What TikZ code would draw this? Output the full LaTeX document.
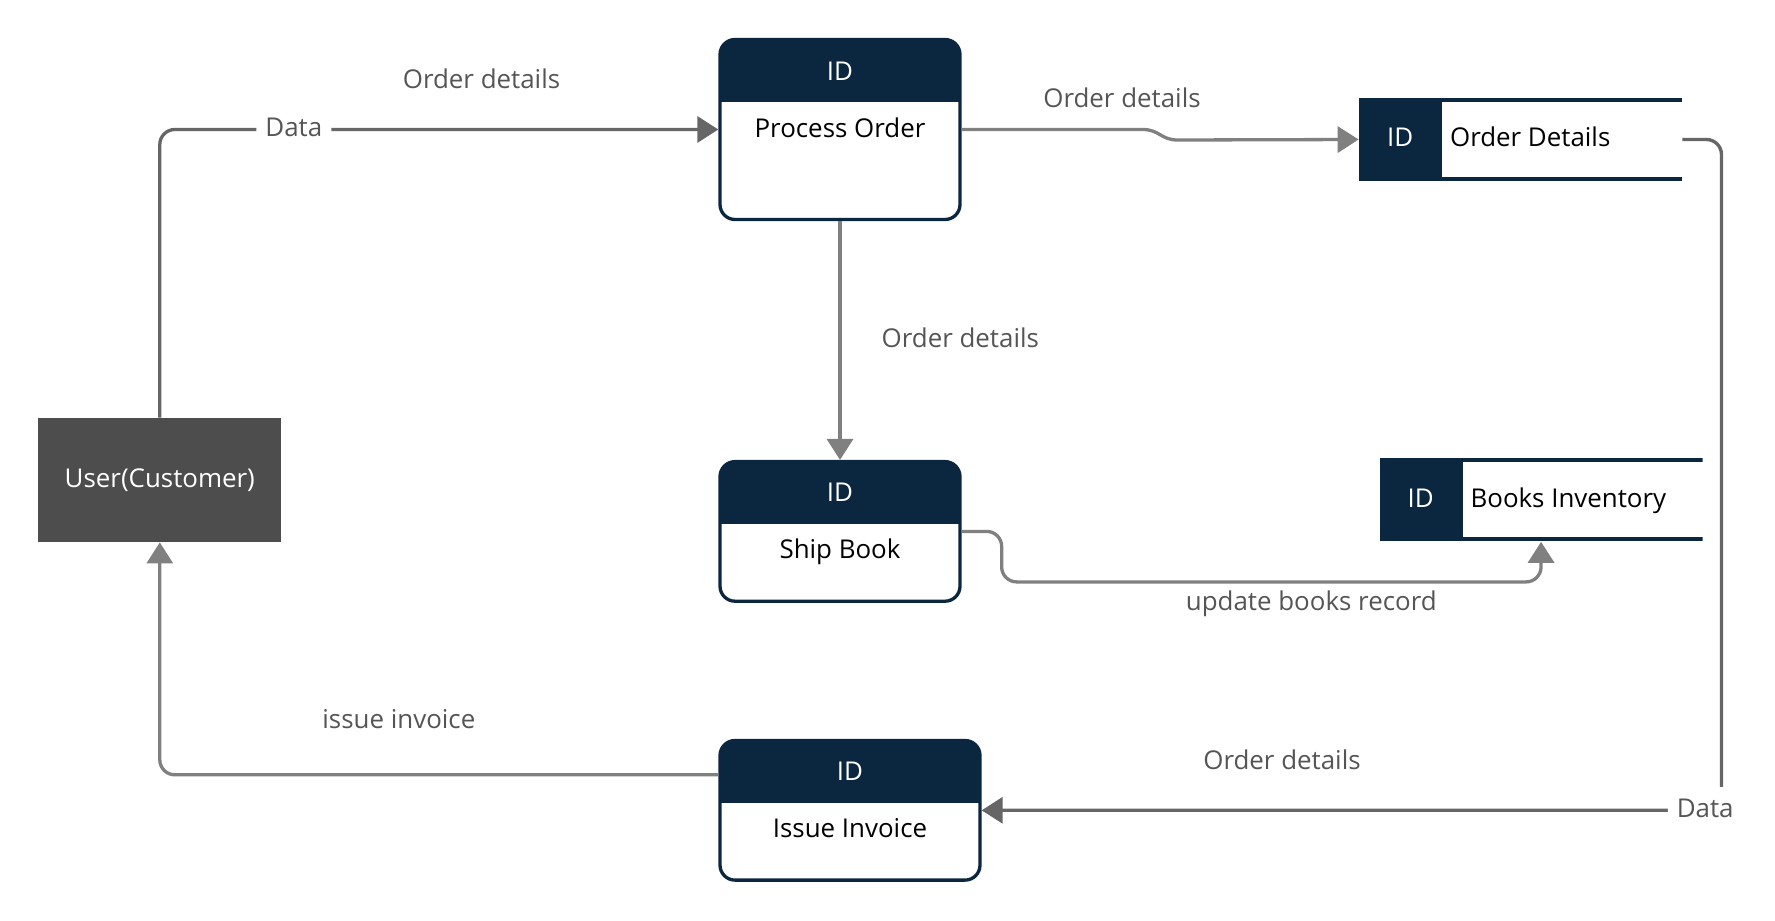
\documentclass[tikz,border=0pt]{standalone}
\usepackage{fontspec}
\setmainfont{Open Sans}
\usepackage{xcolor}
\usepackage{tikz}
\usetikzlibrary{arrows.meta,positioning}
\definecolor{navy}{HTML}{0B2740}
\definecolor{userfill}{HTML}{4D4D4D}
\definecolor{edgegray}{HTML}{808080}
\definecolor{datagray}{HTML}{666666}
\definecolor{labelgray}{HTML}{555555}

\begin{document}
\begin{tikzpicture}[x=0.5pt,y=-0.5pt,>={Triangle[length=10.5pt,width=13pt]},font=\fontsize{12.95}{16}\selectfont]
        \tikzset{block/.style={fill=userfill, text=white, minimum width=121.5pt, minimum height=62pt, inner sep=0pt},
        rblock/.style={draw=navy, fill=white, line width=1.65pt, rounded corners=7.5pt, minimum width=120pt, inner sep=0pt,
            path picture={\fill[navy, sharp corners] (path picture bounding box.north west) rectangle ([yshift=-31.15pt]path picture bounding box.north east);}},
        store/.style={minimum width=161.5pt, minimum height=41.5pt, inner sep=0pt,
            path picture={
                \fill[navy] (path picture bounding box.north west) rectangle ([xshift=41.5pt]path picture bounding box.south west);
                \fill[navy] (path picture bounding box.north west) rectangle ([yshift=-2pt]path picture bounding box.north east);
                \fill[navy] (path picture bounding box.south west) rectangle ([yshift=2pt]path picture bounding box.south east);
            }},
        idtext/.style={text=white, inner sep=0pt, text height=0.714em, text depth=0pt},
        nametext/.style={text=black, inner sep=0pt, text height=0.714em, text depth=0pt},
        lbl/.style={text=labelgray, inner sep=0pt, text height=0.714em, text depth=0pt},
        datalbl/.style={lbl, fill=white, inner xsep=4.5pt, inner ysep=8pt},
        flow/.style={draw=edgegray, line width=1.65pt, rounded corners=7.5pt, ->},
        dflow/.style={draw=datagray, line width=1.65pt, rounded corners=7.5pt, ->}
        }
        \useasboundingbox (0,0) rectangle (1775,920);

        \node [block] (User) at (159.8,480) {User(Customer)};
        \node [rblock, minimum height=90pt] (Process) at (840,129.5) {};
        \node [rblock, minimum height=69.8pt, below=119.4pt of Process] (Ship) {};
        \node [rblock, minimum width=130pt, minimum height=69.8pt, below=68pt of Ship, xshift=5pt] (Invoice) {};
        \node [store, right=198.5pt of Process, yshift=-5pt] (Orders) {};
        \node [store, below=138.3pt of Orders, xshift=10.25pt] (Books) {};

        %% texts inside the boxes
        \node [idtext] (ProcessID) at ([yshift=-17.8pt]Process.north) {ID};
        \node [nametext] (ProcessName) at ([yshift=-46.3pt]Process.north) {Process Order};
        \node [idtext] (ShipID) at ([yshift=-17.3pt]Ship.north) {ID};
        \node [nametext] (ShipName) at ([yshift=-45.8pt]Ship.north) {Ship Book};
        \node [idtext] (InvoiceID) at ([yshift=-17.3pt]Invoice.north) {ID};
        \node [nametext] (InvoiceName) at ([yshift=-45.8pt]Invoice.north) {Issue Invoice};
        \node [idtext] (OrdersID) at ([xshift=20.75pt]Orders.west) {ID};
        \node [nametext, right=45.5pt of Orders.west] (OrdersName) {Order Details};
        \node [idtext] (BooksID) at ([xshift=20.75pt]Books.west) {ID};
        \node [nametext, right=45.5pt of Books.west] (BooksName) {Books Inventory};

%% paths
        \draw [dflow] (User) |- node[datalbl, pos=0.62] {Data} node[lbl, pos=0.788, yshift=24pt] {Order details} (Process);
        \draw [flow, sharp corners] (Process.east) -- node[lbl, pos=0.886, yshift=14.5pt] {Order details} ++(181,0) .. controls +(17,0) and +(-17,0) .. ++(35,10.5) -- (Orders.west);
        \draw [flow] (Process) -- node[lbl, right=20pt] {Order details} (Ship);
        \draw [flow] (Ship.east) -- ++(40,0) -- ++(0,50.5) -| node[lbl, pos=0.287, yshift=-10.5pt] {update books record} (Books);
        \draw [dflow] (Orders.east) -- ++(39,0) |- node[datalbl, pos=0.511] {Data} node[lbl, pos=0.797, yshift=24pt] {Order details} (Invoice);
        \draw [flow] ([yshift=17.75pt]Invoice.west) -| node[lbl, pos=0.286, yshift=26.5pt] {issue invoice} (User);
    \end{tikzpicture}
\end{document}
